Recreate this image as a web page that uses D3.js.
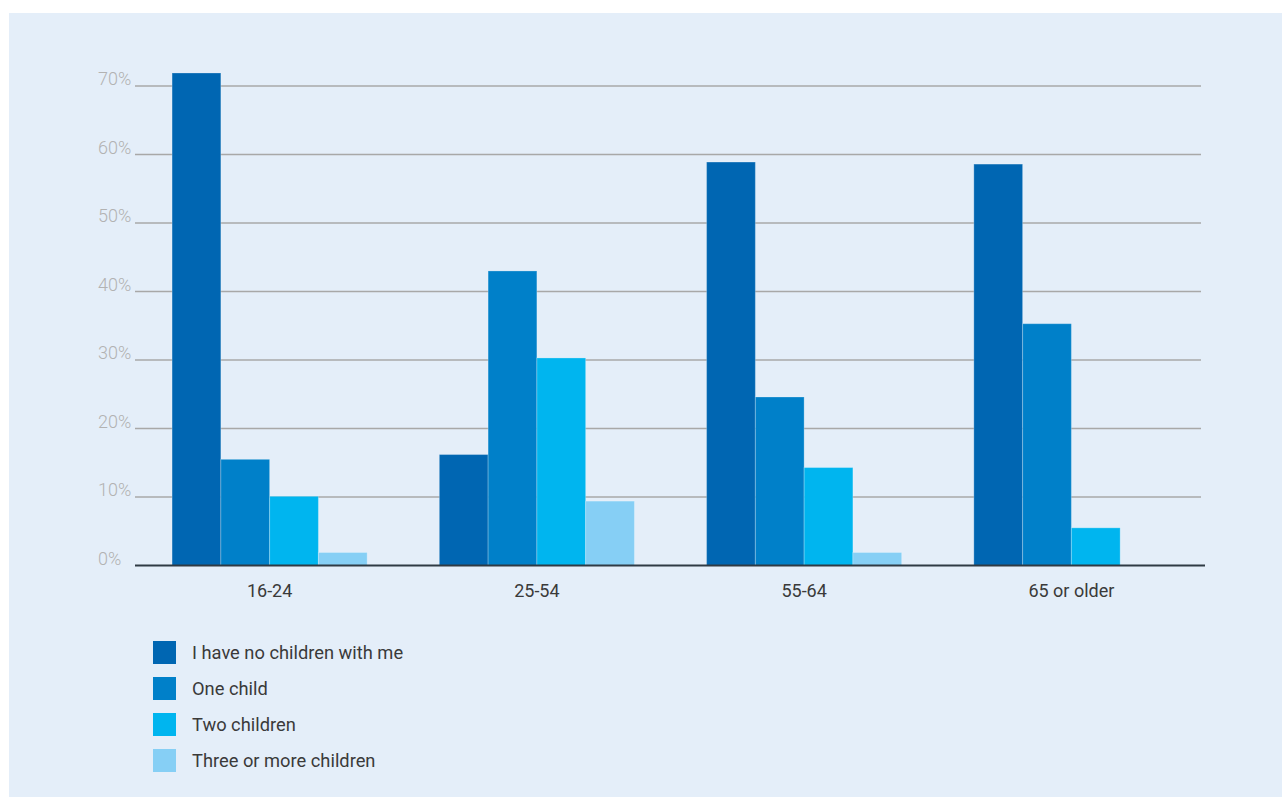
<!DOCTYPE html>
<html>
<head>
<meta charset="utf-8">
<script src="https://cdn.jsdelivr.net/npm/d3@7"></script>
<style>
  html, body { margin: 0; padding: 0; background: #ffffff; }
  svg { display: block; font-family: Roboto, "Noto Sans", sans-serif; }
</style>
</head>
<body>
<svg id="chart" width="1282" height="797"></svg>
<script>
const categories = ["16-24", "25-54", "55-64", "65 or older"];
const seriesNames = ["I have no children with me", "One child", "Two children", "Three or more children"];
const noChildren = [71.9, 16.2, 58.9, 58.6];
const oneChild = [15.5, 43.0, 24.6, 35.3];
const twoChildren = [10.1, 30.3, 14.3, 5.5];
const threeOrMore = [1.9, 9.4, 1.9, 0];
const seriesValues = [noChildren, oneChild, twoChildren, threeOrMore];
const yTicks = [0, 10, 20, 30, 40, 50, 60, 70];
const colors = ["#0066b2", "#0080c9", "#00b5ef", "#86cff5"];

const svg = d3.select("#chart");

svg.append("rect")
  .attr("x", 9).attr("y", 13)
  .attr("width", 1282 - 9).attr("height", 797 - 13)
  .attr("fill", "#e4eef9");

const x0 = d3.scaleBand()
  .domain(categories)
  .range([136, 1205])
  .paddingInner(0.27)
  .paddingOuter(0.135);

const x1 = d3.scaleBand()
  .domain(seriesNames)
  .range([0, x0.bandwidth()]);

const y = d3.scaleLinear().domain([0, 70]).range([565.5, 86]);

// gridlines
const grid = svg.append("g");
grid.selectAll("line")
  .data(yTicks.filter(t => t > 0))
  .join("line")
  .attr("x1", 135).attr("x2", 1201)
  .attr("y1", d => y(d)).attr("y2", d => y(d))
  .attr("stroke", "#a8a8a8")
  .attr("stroke-width", 1.3);

// y labels
svg.append("g").selectAll("text")
  .data(yTicks)
  .join("text")
  .attr("x", 98)
  .attr("y", d => y(d) - 1)
  .attr("fill", "#b2b2b2")
  .attr("font-size", 18)
  .attr("font-weight", 300)
  .text(d => d + "%");

// bars
const rows = categories.map((c, i) => ({
  cat: c,
  vals: seriesNames.map((s, j) => ({ s, j, v: seriesValues[j][i] }))
}));

const groups = svg.append("g").selectAll("g")
  .data(rows)
  .join("g")
  .attr("transform", d => `translate(${x0(d.cat)},0)`);

groups.selectAll("rect")
  .data(d => d.vals.filter(v => v.v > 0))
  .join("rect")
  .attr("x", d => x1(d.s))
  .attr("width", x1.bandwidth())
  .attr("y", d => y(d.v))
  .attr("height", d => y(0) - y(d.v))
  .attr("fill", d => colors[d.j])
  .attr("stroke", "rgba(255,255,255,0.25)")
  .attr("stroke-width", 1);

// x axis
const xAxis = svg.append("g")
  .attr("transform", `translate(0,${y(0)})`)
  .call(d3.axisBottom(x0).tickSize(0).tickPadding(19));
xAxis.select(".domain").remove();
xAxis.append("line")
  .attr("x1", 135).attr("x2", 1205)
  .attr("y1", 0).attr("y2", 0)
  .attr("stroke", "#2f3a44")
  .attr("stroke-width", 1.8);
xAxis.selectAll("text")
  .attr("font-family", "Roboto, sans-serif")
  .attr("font-size", 18)
  .attr("fill", "#3a3a3a");

// legend
const legend = svg.append("g").selectAll("g")
  .data(seriesNames)
  .join("g")
  .attr("transform", (d, i) => `translate(153,${641 + i * 36})`);
legend.append("rect")
  .attr("width", 23).attr("height", 23)
  .attr("fill", (d, i) => colors[i]);
legend.append("text")
  .attr("x", 39).attr("y", 11.5)
  .attr("dy", "0.35em")
  .attr("font-size", 18.3)
  .attr("fill", "#3a3a3a")
  .text(d => d);
</script>
</body>
</html>
